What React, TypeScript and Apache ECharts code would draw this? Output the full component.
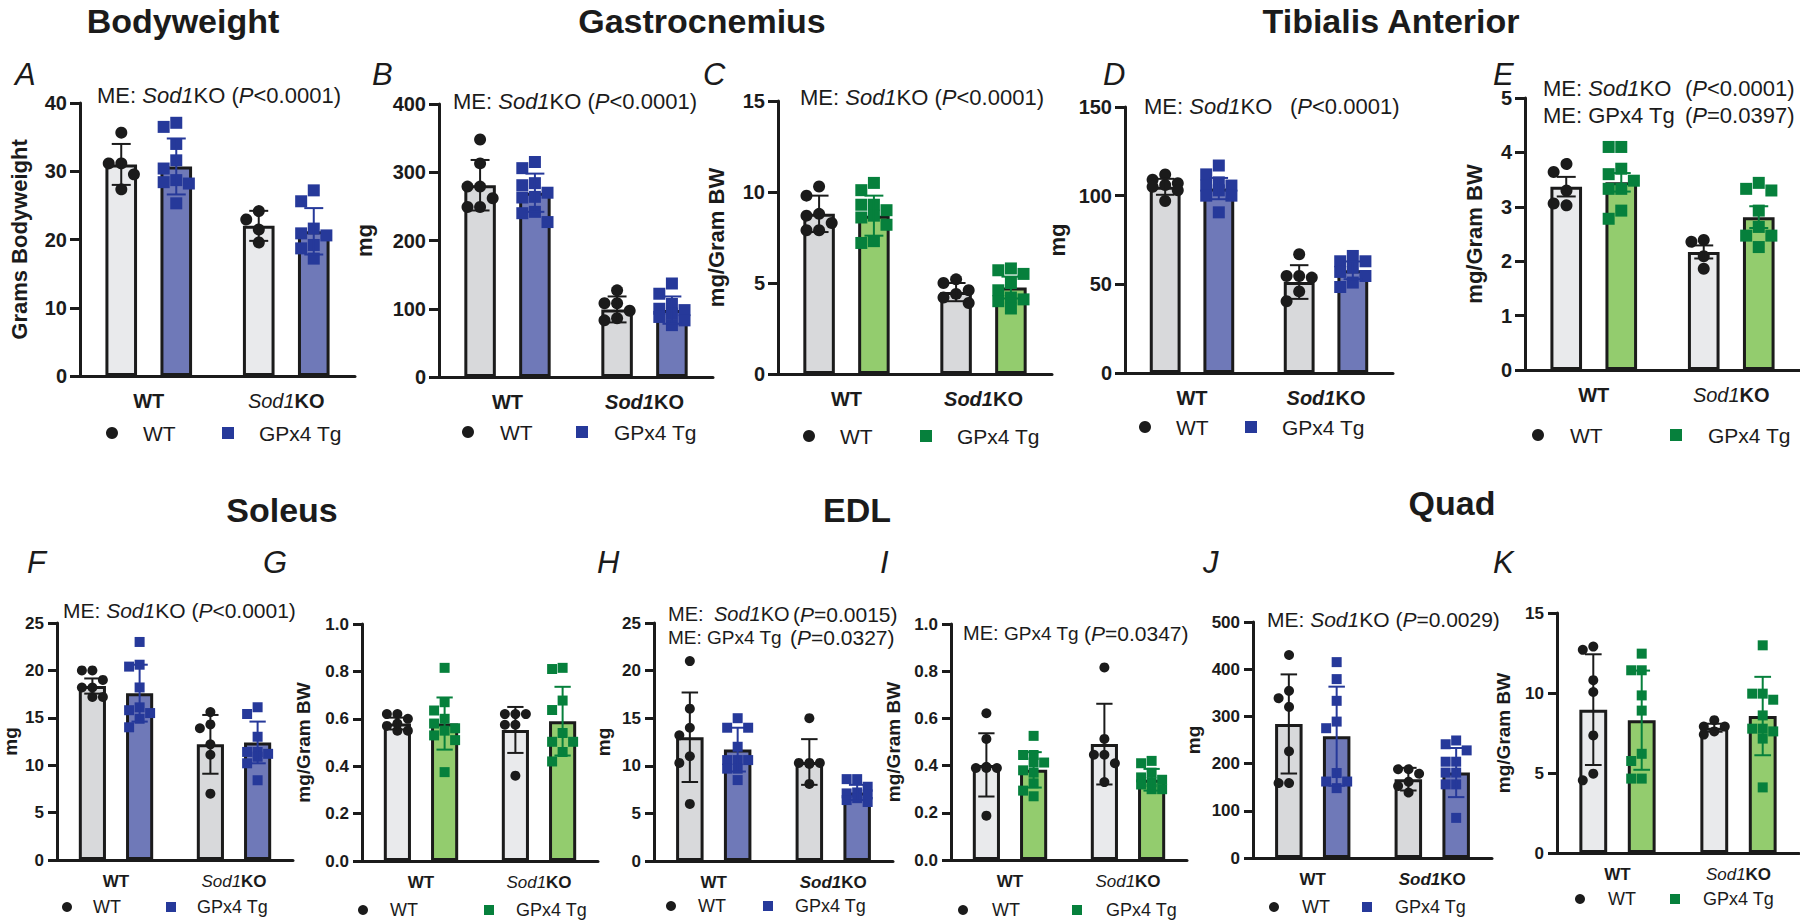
import React, { useEffect, useRef } from "react";
import * as echarts from "echarts";

// ---------------- data ----------------
const categories = ["WT", "Sod1KO"];
const genotypes = ["WT", "GPx4 Tg"];

// each panel: mean[genotype][category], sd[genotype][category], pts[genotype][category][]
// A – Bodyweight (grams)
const aTicks = [0, 10, 20, 30, 40];
const aMean = [[31.0, 22.0], [30.7, 21.2]];
const aSd = [[3.0, 2.2], [4.1, 3.4]];
const aPts = [
  [[35.8, 31.3, 31.3, 29.7, 27.5], [24.3, 23.1, 21.6, 19.7]],
  [[37.1, 36.5, 34.0, 31.6, 30.4, 28.7, 28.4, 28.2, 25.3], [27.2, 25.6, 21.6, 20.9, 20.6, 19.2, 18.7, 17.2]],
];
// B – Gastrocnemius (mg)
const bTicks = [0, 100, 200, 300, 400];
const bMean = [[281, 99], [270, 98]];
const bSd = [[37, 19], [28, 20]];
const bPts = [
  [[348, 313, 279, 279, 262, 249, 249], [127, 108, 108, 97, 86, 83]],
  [[315, 306, 284, 281, 270, 264, 263, 242, 240, 227], [137, 122, 107, 100, 98, 93, 88, 83, 76]],
];
// C – Gastrocnemius (mg/Gram BW)
const cTicks = [0, 5, 10, 15];
const cMean = [[8.8, 4.5], [8.7, 4.75]];
const cSd = [[1.0, 0.5], [1.1, 0.6]];
const cPts = [
  [[10.3, 9.8, 8.8, 8.7, 8.3, 7.9, 7.9], [5.2, 5.0, 4.6, 4.4, 4.2, 3.9]],
  [[10.5, 10.1, 9.3, 9.3, 9.0, 8.7, 8.6, 8.2, 7.3, 7.2], [5.8, 5.7, 5.5, 5.0, 4.6, 4.2, 4.1, 4.0, 3.6]],
];
// D – Tibialis Anterior (mg)
const dTicks = [0, 50, 100, 150];
const dMean = [[105, 51.3], [104, 57.9]];
const dSd = [[4.5, 9.5], [6, 5]];
const dPts = [
  [[112, 109, 107, 106, 105, 103, 97], [67, 54.7, 54.7, 53.8, 46, 40.5]],
  [[117, 112, 107.5, 105.7, 105.7, 103, 100, 100, 90.6], [66, 63, 63, 59.4, 57, 54.7, 51, 48.5]],
];
// E – Tibialis Anterior (mg/Gram BW)
const eTicks = [0, 1, 2, 3, 4, 5];
const eMean = [[3.37, 2.17], [3.45, 2.81]];
const eSd = [[0.18, 0.12], [0.17, 0.2]];
const ePts = [
  [[3.82, 3.64, 3.33, 3.06, 3.06], [2.39, 2.39, 2.09, 1.86]],
  [[4.1, 4.1, 3.7, 3.6, 3.48, 3.33, 3.33, 2.93, 2.78], [3.44, 3.33, 3.3, 2.93, 2.63, 2.47, 2.47, 2.26]],
];
// F – Soleus (mg)
const fTicks = [0, 5, 10, 15, 20, 25];
const fMean = [[18.35, 12.2], [17.6, 12.4]];
const fSd = [[0.8, 3.1], [3.0, 2.2]];
const fPts = [
  [[20.0, 20.0, 19.0, 18.2, 18.2, 17.2, 17.2], [15.6, 14.3, 13.9, 12.2, 11.1, 7.0]],
  [[23.0, 20.6, 20.4, 18.2, 16.1, 15.8, 15.5, 14.9, 14.0], [16.1, 15.4, 13.0, 11.4, 11.4, 11.2, 10.9, 10.2, 8.4]],
];
// G – Soleus (mg/Gram BW)
const gTicks = [0, 0.2, 0.4, 0.6, 0.8, 1.0];
const gMean = [[0.58, 0.553], [0.58, 0.59]];
const gSd = [[0.025, 0.097], [0.11, 0.145]];
const gPts = [
  [[0.62, 0.62, 0.6, 0.58, 0.57, 0.55, 0.55], [0.62, 0.62, 0.62, 0.575, 0.575, 0.36]],
  [[0.815, 0.67, 0.635, 0.6, 0.58, 0.56, 0.55, 0.53, 0.51, 0.375], [0.815, 0.81, 0.677, 0.637, 0.54, 0.503, 0.503, 0.46, 0.42]],
];
// H – EDL (mg)
const hTicks = [0, 5, 10, 15, 20, 25];
const hMean = [[13.0, 10.4], [11.7, 7.2]];
const hSd = [[4.7, 2.4], [2.3, 0.8]];
const hPts = [
  [[21.0, 16.0, 14.0, 13.2, 11.0, 10.3, 6.0], [15.0, 10.3, 10.3, 10.3, 10.2, 8.1]],
  [[15.0, 14.0, 14.0, 12.0, 10.6, 10.6, 10.6, 9.7, 9.7, 8.5], [8.6, 8.6, 7.8, 7.2, 7.1, 7.0, 6.6, 6.4, 6.2]],
];
// I – EDL (mg/Gram BW)
const iTicks = [0, 0.2, 0.4, 0.6, 0.8, 1.0];
const iMean = [[0.403, 0.491], [0.382, 0.34]];
const iSd = [[0.134, 0.171], [0.075, 0.046]];
const iPts = [
  [[0.622, 0.513, 0.395, 0.39, 0.39, 0.39, 0.188], [0.816, 0.513, 0.446, 0.446, 0.41, 0.33]],
  [[0.526, 0.445, 0.445, 0.413, 0.413, 0.38, 0.37, 0.325, 0.294, 0.27], [0.42, 0.41, 0.37, 0.35, 0.34, 0.33, 0.32, 0.3, 0.3]],
];
// J – Quad (mg)
const jTicks = [0, 100, 200, 300, 400, 500];
const jMean = [[284, 167], [258, 181]];
const jSd = [[105, 24], [105, 52]];
const jPts = [
  [[433, 357, 342, 323, 229, 162, 162], [191, 191, 182, 165, 156, 142]],
  [[415, 379, 333, 289, 275, 180, 162, 162, 148], [249, 241, 228, 204, 204, 181, 181, 156, 156, 85]],
];
// K – Quad (mg/Gram BW)
const kTicks = [0, 5, 10, 15];
const kMean = [[8.96, 7.83], [8.3, 8.56]];
const kSd = [[3.46, 0.25], [3.1, 2.45]];
const kPts = [
  [[12.9, 12.7, 10.8, 10.06, 7.35, 4.96, 4.54], [8.3, 7.9, 7.9, 7.6, 7.4]],
  [[12.46, 11.42, 11.42, 9.85, 8.9, 6.2, 5.75, 4.65, 4.65], [12.98, 9.96, 9.96, 9.58, 8.6, 7.77, 7.77, 7.6, 7.15, 4.1]],
];

const sectionTitles = ["Bodyweight", "Gastrocnemius", "Tibialis Anterior", "Soleus", "EDL", "Quad"];

// ---------------- styles / layout ----------------
const FONT = "'Liberation Sans', Arial, Helvetica, sans-serif";
const INK = "#1b1b1b";
const COLORS: any = {
  blue: { dot: "#26399a", bar: "#6f79b8" },
  green: { dot: "#06803c", bar: "#93cc6e" },
};
const GRAY_LIGHT = "#e9eaec";
const GRAY_DARK = "#d8d9db";
const BAR_W = 0.23;
const BAR_GAP = 0.74;
const BAR_OFF = (BAR_W + BAR_W * BAR_GAP) / 2;

const ROW: any = {
  top: { tick: 20, xLabel: 20, name: 22, legend: 21, marker: 12, xMargin: 15, tickLen: 10 },
  bottom: { tick: 17, xLabel: 17, name: 19, legend: 18, marker: 10, xMargin: 13, tickLen: 9 },
};

const panels: any[] = [
  { id: "A", mean: aMean, sd: aSd, pts: aPts, ticks: aTicks, dec: 0, yName: "Grams Bodyweight", tg: "blue", gray: GRAY_LIGHT, ko: "i", row: "top", grid: [80, 103, 275, 273], nameGap: 50, legend: [112, 143, 228, 433], letter: [15, 74] },
  { id: "B", mean: bMean, sd: bSd, pts: bPts, ticks: bTicks, dec: 0, yName: "mg", tg: "blue", gray: GRAY_DARK, ko: "bi", row: "top", grid: [439, 104, 274, 273], nameGap: 64, legend: [468, 500, 582, 432], letter: [372, 74] },
  { id: "C", mean: cMean, sd: cSd, pts: cPts, ticks: cTicks, dec: 0, yName: "mg/Gram BW", tg: "green", gray: GRAY_DARK, ko: "bi", row: "top", grid: [778, 101, 274, 273], nameGap: 51, legend: [809, 840, 926, 436], letter: [703, 74] },
  { id: "D", mean: dMean, sd: dSd, pts: dPts, ticks: dTicks, dec: 0, yName: "mg", tg: "blue", gray: GRAY_DARK, ko: "bi", row: "top", grid: [1125, 107, 268, 266], nameGap: 57, legend: [1145, 1176, 1251, 427], letter: [1103, 74] },
  { id: "E", mean: eMean, sd: eSd, pts: ePts, ticks: eTicks, dec: 0, yName: "mg/Gram BW", tg: "green", gray: GRAY_LIGHT, ko: "i", row: "top", grid: [1525, 98, 275, 272], nameGap: 40, legend: [1538, 1570, 1676, 435], letter: [1493, 74] },
  { id: "F", mean: fMean, sd: fSd, pts: fPts, ticks: fTicks, dec: 0, yName: "mg", tg: "blue", gray: GRAY_DARK, ko: "i", row: "bottom", grid: [57, 623, 236, 237], nameGap: 37, legend: [67, 93, 171, 907], letter: [27, 562] },
  { id: "G", mean: gMean, sd: gSd, pts: gPts, ticks: gTicks, dec: 1, yName: "mg/Gram BW", tg: "green", gray: GRAY_LIGHT, ko: "i", row: "bottom", grid: [362, 624, 236, 237], nameGap: 49, legend: [363, 390, 489, 910], letter: [263, 562] },
  { id: "H", mean: hMean, sd: hSd, pts: hPts, ticks: hTicks, dec: 0, yName: "mg", tg: "blue", gray: GRAY_DARK, ko: "bi", row: "bottom", grid: [654, 623, 239, 238], nameGap: 41, legend: [671, 698, 768, 906], letter: [597, 562] },
  { id: "I", mean: iMean, sd: iSd, pts: iPts, ticks: iTicks, dec: 1, yName: "mg/Gram BW", tg: "green", gray: GRAY_LIGHT, ko: "i", row: "bottom", grid: [951, 624, 236, 236], nameGap: 48, legend: [963, 992, 1077, 910], letter: [880, 562] },
  { id: "J", mean: jMean, sd: jSd, pts: jPts, ticks: jTicks, dec: 0, yName: "mg", tg: "blue", gray: GRAY_DARK, ko: "bi", row: "bottom", grid: [1253, 622, 239, 236], nameGap: 50, legend: [1274, 1302, 1367, 907], letter: [1203, 562] },
  { id: "K", mean: kMean, sd: kSd, pts: kPts, ticks: kTicks, dec: 0, yName: "mg/Gram BW", tg: "green", gray: GRAY_LIGHT, ko: "i", row: "bottom", grid: [1557, 613, 242, 240], nameGap: 44, legend: [1580, 1608, 1675, 899], letter: [1493, 562] },
];

const titlePos = [
  [183, 21], [702, 21], [1391, 21], [282, 510], [857, 510], [1452, 503],
];

// annotation texts: [x, y, fontSize, parts]
const ME_SOD = [["ME: ", "n"], ["Sod1", "i"], ["KO", "n"]];
const P = (rel: string, v: string) => [["(", "n"], ["P", "i"], [rel + v + ")", "n"]];
const annotations: any[] = [
  [97, 95, 22, [...ME_SOD, [" ", "n"], ...P("<", "0.0001")]],
  [453, 101, 22, [...ME_SOD, [" ", "n"], ...P("<", "0.0001")]],
  [800, 97, 22, [...ME_SOD, [" ", "n"], ...P("<", "0.0001")]],
  [1144, 106, 22, ME_SOD],
  [1290, 106, 22, P("<", "0.0001")],
  [1543, 88, 22, ME_SOD],
  [1685, 88, 22, P("<", "0.0001")],
  [1543, 115, 22, [["ME: GPx4 Tg", "n"]]],
  [1685, 115, 22, P("=", "0.0397")],
  [63, 610, 21, [...ME_SOD, [" ", "n"], ...P("<", "0.0001")]],
  [668, 614, 20, [["ME:", "n"]]],
  [714, 614, 20, [["Sod1", "i"], ["KO", "n"]]],
  [793, 614, 21, P("=", "0.0015")],
  [668, 637, 19, [["ME: GPx4 Tg", "n"]]],
  [790, 637, 21, P("=", "0.0327")],
  [963, 633, 20, [["ME:", "n"]]],
  [1004, 633, 19, [["GPx4 Tg", "n"]]],
  [1084, 633, 21, P("=", "0.0347")],
  [1267, 619, 21, [...ME_SOD, [" ", "n"], ...P("=", "0.0029")]],
];

// simple beeswarm layout (pixel space)
function swarm(ys: number[], s: number): number[] {
  const order = ys.map((_, i) => i).sort((a, b) => ys[a] - ys[b]);
  const placed: { x: number; y: number }[] = [];
  const xs = new Array(ys.length).fill(0);
  const cands = [0, -1, 1];
  for (const i of order) {
    let best = 0;
    let bestScore = Infinity;
    for (const c of cands) {
      const x = c * s * 1.05;
      let score = 0;
      for (const p of placed) {
        const d = Math.hypot(p.x - x, p.y - ys[i]);
        if (d < s) score += s - d;
      }
      if (score < bestScore - 1e-9) {
        bestScore = score;
        best = x;
      }
    }
    xs[i] = best;
    placed.push({ x: best, y: ys[i] });
  }
  return xs;
}

function makeRender(p: any, size: number, dot: string) {
  return (params: any, api: any) => {
    const cat = api.value(0) as number;
    const g = api.value(2) as number;
    const band = api.size([1, 0])[0];
    const cx = api.coord([cat, 0])[0] + (g === 0 ? -1 : 1) * BAR_OFF * band;
    const barW = BAR_W * band;
    const vals: number[] = p.pts[g][cat];
    const ys = vals.map((v) => api.coord([cat, v])[1]);
    const xs = swarm(ys, size);
    const color = g === 0 ? INK : dot;
    const children: any[] = [];
    vals.forEach((_, k) => {
      if (g === 0) {
        children.push({ type: "circle", shape: { cx: cx + xs[k], cy: ys[k], r: size / 2 }, style: { fill: color } });
      } else {
        children.push({ type: "rect", shape: { x: cx + xs[k] - size / 2, y: ys[k] - size / 2, width: size, height: size }, style: { fill: color } });
      }
    });
    const m = p.mean[g][cat];
    const sd = p.sd[g][cat];
    const yt = api.coord([cat, m + sd])[1];
    const yb = api.coord([cat, m - sd])[1];
    const cap = 0.3 * barW;
    const ls = { stroke: color, lineWidth: 2 };
    children.push({ type: "line", shape: { x1: cx, y1: yt, x2: cx, y2: yb }, style: ls });
    children.push({ type: "line", shape: { x1: cx - cap, y1: yt, x2: cx + cap, y2: yt }, style: ls });
    children.push({ type: "line", shape: { x1: cx - cap, y1: yb, x2: cx + cap, y2: yb }, style: ls });
    return { type: "group", children };
  };
}

function richText(parts: any[]) {
  return parts.map(([t, s]: any) => `{${s}|${t}}`).join("");
}

function buildOption() {
  const grid: any[] = [];
  const xAxis: any[] = [];
  const yAxis: any[] = [];
  const series: any[] = [];
  const legend: any[] = [];
  const elements: any[] = [];

  panels.forEach((p, i) => {
    const r = ROW[p.row];
    const col = COLORS[p.tg];
    const [gl, gt, gw, gh] = p.grid;
    grid.push({ left: gl, top: gt, width: gw, height: gh, containLabel: false, outerBoundsMode: "none" });
    const rich = {
      b: { fontWeight: "bold", fontSize: r.xLabel, fontFamily: FONT, color: INK },
      i: { fontStyle: "italic", fontSize: r.xLabel, fontFamily: FONT, color: INK },
      bi: { fontStyle: "italic", fontWeight: "bold", fontSize: r.xLabel, fontFamily: FONT, color: INK },
    };
    xAxis.push({
      gridIndex: i,
      type: "category",
      data: categories,
      axisLine: { lineStyle: { color: INK, width: 3 } },
      axisTick: { alignWithLabel: true, length: r.tickLen, lineStyle: { color: INK, width: 3 } },
      axisLabel: {
        interval: 0,
        margin: r.xMargin,
        formatter: (v: string) => (v === "WT" ? "{b|WT}" : `{${p.ko}|Sod1}{b|KO}`),
        rich,
      },
      splitLine: { show: false },
    });
    const t = p.ticks;
    yAxis.push({
      gridIndex: i,
      type: "value",
      min: t[0],
      max: t[t.length - 1],
      interval: t[1] - t[0],
      axisLine: { show: true, lineStyle: { color: INK, width: 3 } },
      axisTick: { show: true, length: r.tickLen, lineStyle: { color: INK, width: 3 } },
      splitLine: { show: false },
      axisLabel: {
        margin: 13,
        fontSize: r.tick,
        fontWeight: "bold",
        fontFamily: FONT,
        color: INK,
        formatter: (v: number) => v.toFixed(p.dec),
      },
      name: p.yName,
      nameLocation: "middle",
      nameGap: p.nameGap,
      nameRotate: 90,
      nameMoveOverlap: false,
      nameTextStyle: { fontSize: r.name, fontWeight: "bold", fontFamily: FONT, color: INK },
    });
    genotypes.forEach((gname, g) => {
      series.push({
        type: "bar",
        name: gname,
        xAxisIndex: i,
        yAxisIndex: i,
        barWidth: `${BAR_W * 100}%`,
        barGap: `${BAR_GAP * 100}%`,
        data: p.mean[g],
        itemStyle: { color: g === 0 ? p.gray : col.bar, borderColor: INK, borderWidth: 3 },
        silent: true,
        z: 2,
      });
    });
    series.push({
      type: "custom",
      name: "points " + p.id,
      xAxisIndex: i,
      yAxisIndex: i,
      silent: true,
      z: 3,
      data: [
        [0, p.mean[0][0], 0],
        [1, p.mean[0][1], 0],
        [0, p.mean[1][0], 1],
        [1, p.mean[1][1], 1],
      ],
      encode: { x: 0, y: 1 },
      renderItem: makeRender(p, r.marker, col.dot),
    });

    const [cx, wtX, sqX, ly] = p.legend;
    const iw = r.marker;
    const fs = r.legend;
    const pad = wtX - cx - iw / 2 - 5;
    const gap = sqX - iw / 2 - (wtX + 1.555 * fs);
    legend.push({
      left: cx - iw / 2,
      top: ly - fs / 2,
      padding: 0,
      itemWidth: iw,
      itemHeight: iw,
      itemGap: gap,
      selectedMode: false,
      data: [
        { name: "WT", icon: "circle", itemStyle: { color: INK, borderWidth: 0 } },
        { name: "GPx4 Tg", icon: "rect", itemStyle: { color: col.dot, borderWidth: 0 } },
      ],
      textStyle: { fontSize: fs, fontFamily: FONT, color: INK, padding: [0, 0, 0, pad] },
    });

    elements.push({
      type: "text",
      x: p.letter[0],
      y: p.letter[1],
      silent: true,
      style: { text: p.id, fontSize: 31, fontStyle: "italic", fontFamily: FONT, fill: INK, align: "left", verticalAlign: "middle" },
    });
  });

  sectionTitles.forEach((s, k) => {
    elements.push({
      type: "text",
      x: titlePos[k][0],
      y: titlePos[k][1],
      silent: true,
      style: { text: s, fontSize: 34, fontWeight: "bold", fontFamily: FONT, fill: INK, align: "center", verticalAlign: "middle" },
    });
  });

  annotations.forEach(([x, y, fs, parts]) => {
    elements.push({
      type: "text",
      x,
      y,
      silent: true,
      style: {
        text: richText(parts),
        fontSize: fs,
        fontFamily: FONT,
        fill: INK,
        align: "left",
        verticalAlign: "middle",
        rich: {
          n: { fontSize: fs, fontFamily: FONT, fill: INK },
          i: { fontSize: fs, fontFamily: FONT, fontStyle: "italic", fill: INK },
        },
      },
    });
  });

  return {
    animation: false,
    backgroundColor: "#ffffff",
    textStyle: { fontFamily: FONT },
    grid,
    xAxis,
    yAxis,
    legend,
    series,
    graphic: { elements },
  };
}

export default function App() {
  const ref = useRef<HTMLDivElement>(null);
  useEffect(() => {
    document.body.style.margin = "0";
    const chart = echarts.init(ref.current as HTMLDivElement, undefined, { renderer: "svg" });
    chart.setOption(buildOption() as any);
    return () => chart.dispose();
  }, []);
  return <div ref={ref} style={{ position: "absolute", left: 0, top: 0, width: 1800, height: 922 }} />;
}
